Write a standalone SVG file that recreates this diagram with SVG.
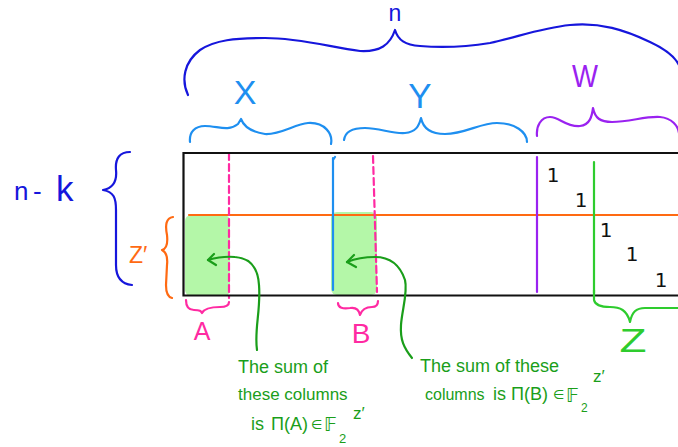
<svg xmlns="http://www.w3.org/2000/svg" width="678" height="447" viewBox="0 0 678 447">
<style>
.s{fill:none;stroke-linecap:round;stroke-linejoin:round;stroke-width:2.2}
.blue{stroke:#1616dc}.lb{stroke:#1e8ff0}.pu{stroke:#9a22f0}.or{stroke:#ff6a12}.pk{stroke:#ff2aa2}.gr{stroke:#2ecc2e}.dg{stroke:#1a9e1a}
.t{font-family:"Liberation Sans",Arial,sans-serif}
.one{font-family:"DejaVu Sans",sans-serif;font-size:20px;fill:#111;text-anchor:middle}
.gt{font-family:"Liberation Sans",Arial,sans-serif;fill:#1a9e1a}
.m{font-family:"DejaVu Sans",sans-serif}
.box{fill:#b4f7a8}
</style>
<rect width="678" height="447" fill="#fff"/>
<g id="highlights">
<rect class="box" x="185" y="215" width="45" height="81" rx="6"/>
<rect class="box" x="331" y="212" width="46" height="83" rx="6"/>
</g>
<g id="matrix">
<path class="s or" d="M189,215 H679"/>
<path class="s pk" stroke-dasharray="7 4" d="M229,153 V298"/>
<path class="s pk" stroke-dasharray="7 4" d="M373,156 L377,292"/>
<path class="s lb" d="M333,158 V290 M333,160 L335,157"/>
<path class="s pu" stroke-width="2.5" d="M537,157 V292"/>
<path class="s gr" d="M594,162 V293"/>
<path fill="none" stroke="#111" stroke-width="2.2" d="M679,153 H183.5 V295.5 H679"/>
<text class="one" x="553" y="182">1</text>
<text class="one" x="581" y="207">1</text>
<text class="one" x="606" y="237">1</text>
<text class="one" x="632" y="261">1</text>
<text class="one" x="661" y="287">1</text>
</g>
<g id="brace-n">
<path class="s blue" d="M188,95 C181,80 184,62 200,50 C215,40 235,38 265,38 C300,38 330,47 360,51 C380,52 390,45 395,30 C398,40 405,45 420,46 C445,48 465,47 490,43 C515,38 540,28 570,25 C600,22 625,30 650,42 C665,49 675,57 679,65"/>
<text class="t" x="395" y="21" font-size="23" fill="#1616dc" text-anchor="middle">n</text>
</g>
<g id="brace-x">
<path class="s lb" d="M190,142 C189,132 195,126 205,126 C218,126 228,132 238,124 L241,119 C244,127 252,132 265,134 C280,135 295,124 308,123 C325,122 333,134 331,144"/>
<text class="t" x="245" y="104" font-size="34" fill="#1e8ff0" text-anchor="middle">X</text>
</g>
<g id="brace-y">
<path class="s lb" d="M344,140 C345,132 352,128 365,128 C380,128 392,134 405,133 C416,132 419,126 421,118 C423,128 430,134 445,134 C465,134 480,123 497,123 C515,123 527,132 527,142"/>
<text class="t" x="420" y="108" font-size="35" fill="#1e8ff0" text-anchor="middle">Y</text>
</g>
<g id="brace-w">
<path class="s pu" d="M537,136 C536,126 541,117 550,117 C560,117 565,127 580,126 C590,125 592,116 593,108 C595,118 600,122 612,122 C630,122 645,116 660,117 C672,118 678,126 679,133"/>
<text class="t" x="585" y="87" font-size="32" fill="#9a22f0" text-anchor="middle" textLength="26" lengthAdjust="spacingAndGlyphs">W</text>
</g>
<g id="brace-nk">
<path class="s blue" d="M130,152 C120,152 115,158 116,170 C117,180 114,188 103,190 C114,192 116,198 116,210 L116,265 C116,278 122,284 132,285"/>
<text class="t" x="14" y="200" font-size="26" fill="#1616dc">n</text>
<text class="t" x="33" y="200" font-size="26" fill="#1616dc">-</text>
<text class="t" x="56" y="201" font-size="35" fill="#1616dc">k</text>
</g>
<g id="brace-zprime">
<path class="s or" d="M173,217 C166,218 165,225 167,235 C168,244 166,249 162,250 C166,252 168,256 167,265 L166,285 C166,293 168,297 172,298"/>
<text class="t" x="129" y="263" font-size="23" fill="#ff6a12">Z′</text>
</g>
<g id="brace-a">
<path class="s pk" d="M186,300 C186,306 188,310 194,310 C200,310 201,311 202,313 C204,309 210,307 220,307 C227,307 229,305 229,302"/>
<text class="t" x="202" y="340" font-size="25" fill="#ff2aa2" text-anchor="middle">A</text>
</g>
<g id="brace-b">
<path class="s pk" d="M338,303 C338,308 343,309 350,308 C356,307 359,310 360,315 C362,309 366,307 372,307 C377,307 378,304 378,301"/>
<text class="t" x="361" y="343" font-size="28" fill="#ff2aa2" text-anchor="middle">B</text>
</g>
<g id="brace-z">
<path class="s gr" d="M594,290 L594,300 C595,305 600,307 610,307 C620,307 627,310 630,322 C632,312 636,308 645,308 L679,308"/>
<text class="t" x="633" y="352" font-size="33" fill="#2ecc2e" text-anchor="middle" textLength="27" lengthAdjust="spacingAndGlyphs">Z</text>
</g>
<g id="connectors">
<path class="s dg" d="M257,350 C254,330 261,310 259,285 C258,268 250,258 235,257 C225,256 215,258 208,260"/>
<path class="s dg" d="M214,254 L208,260 L216,265"/>
<path class="s dg" d="M412,358 C404,348 400,340 401,325 C402,310 408,292 405,280 C400,265 390,257 375,257 C362,257 352,260 347,262"/>
<path class="s dg" d="M354,255 L347,262 L356,267"/>
</g>
<g id="note-a">
<text class="gt" x="238" y="373" font-size="18">The sum of</text>
<text class="gt" x="238" y="400" font-size="17">these columns</text>
<text class="gt" x="251" y="430" font-size="18">is</text>
<text class="gt" x="271" y="430" font-size="18">Π(A)</text>
<text class="gt m" x="311" y="429" font-size="13">∈</text>
<text class="gt m" x="324" y="431" font-size="19">𝔽</text>
<text class="gt" x="339" y="443" font-size="13">2</text>
<text class="gt" x="353" y="419" font-size="17">z′</text>
</g>
<g id="note-b">
<text class="gt" x="420" y="372" font-size="18">The sum of these</text>
<text class="gt" x="425" y="400" font-size="16">columns</text>
<text class="gt" x="493" y="400" font-size="18">is</text>
<text class="gt" x="511" y="400" font-size="18">Π(B)</text>
<text class="gt m" x="553" y="399" font-size="13">∈</text>
<text class="gt m" x="566" y="402" font-size="19">𝔽</text>
<text class="gt" x="581" y="412" font-size="12">2</text>
<text class="gt" x="593" y="382" font-size="17">z′</text>
</g>
</svg>
